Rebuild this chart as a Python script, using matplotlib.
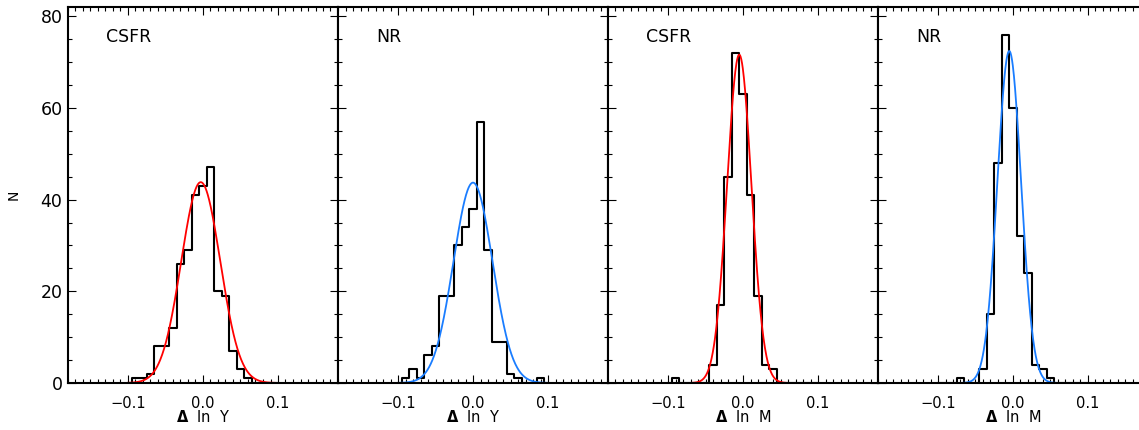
import numpy as np
import matplotlib
matplotlib.use("Agg")
import matplotlib.pyplot as plt
from matplotlib.ticker import MultipleLocator

# bin centres (IDL psym=10 style histogram)
bins = [-0.10, -0.09, -0.08, -0.07, -0.06, -0.05, -0.04, -0.03, -0.02, -0.01,
        0.00, 0.01, 0.02, 0.03, 0.04, 0.05, 0.06, 0.07, 0.08, 0.09, 0.10]

csfr_lny = [0, 1, 1, 2, 8, 8, 12, 26, 29, 41, 43, 47, 20, 19, 7, 3, 1, 0, 0, 0, 0]
nr_lny = [0, 1, 3, 1, 6, 8, 19, 19, 30, 34, 38, 57, 29, 9, 9, 2, 1, 0, 0, 1, 0]
csfr_lnm = [0, 1, 0, 0, 0, 0, 4, 17, 45, 72, 63, 41, 19, 4, 3, 0, 0, 0, 0, 0, 0]
nr_lnm = [0, 0, 0, 1, 0, 0, 3, 15, 48, 76, 60, 32, 24, 4, 3, 1, 0, 0, 0, 0, 0]

# gaussian fits: amplitude, mean, sigma
fit_csfr_lny = [43.8, -0.003, 0.026]
fit_nr_lny = [43.7, 0.000, 0.026]
fit_csfr_lnm = [71.6, -0.005, 0.0162]
fit_nr_lnm = [72.4, -0.005, 0.0158]

labels = ["CSFR", "NR", "CSFR", "NR"]
xlabels = [r"$\mathbf{\Delta}$  ln  Y", r"$\mathbf{\Delta}$  ln  Y",
           r"$\mathbf{\Delta}$  ln  M", r"$\mathbf{\Delta}$  ln  M"]

hists = [csfr_lny, nr_lny, csfr_lnm, nr_lnm]
fits = [fit_csfr_lny, fit_nr_lny, fit_csfr_lnm, fit_nr_lnm]
colors = ["#ff0000", "#1a7dff", "#ff0000", "#1a7dff"]

plt.rcParams["font.family"] = ["DejaVu Sans"]
plt.rcParams["mathtext.fontset"] = "dejavusans"

fig = plt.figure(figsize=(11.39, 4.30), dpi=100)

W, H = 1139.0, 430.0
lefts = [68, 338, 608, 878]

for i in range(4):
    ax = fig.add_axes([lefts[i] / W, 47 / H, 270 / W, 376 / H])

    ax.step(bins, hists[i], where="mid", color="black", lw=1.5)

    a, mu, sig = fits[i]
    xx = np.linspace(bins[0], bins[-1], 400)
    ax.plot(xx, a * np.exp(-0.5 * ((xx - mu) / sig) ** 2), color=colors[i], lw=1.3)

    ax.set_xlim(-0.18, 0.18)
    ax.set_ylim(0, 82)

    ax.xaxis.set_major_locator(MultipleLocator(0.1))
    ax.xaxis.set_minor_locator(MultipleLocator(0.01))
    ax.yaxis.set_major_locator(MultipleLocator(20))
    ax.yaxis.set_minor_locator(MultipleLocator(5))
    ax.xaxis.set_major_formatter(plt.FuncFormatter(lambda v, p: f"{v:.1f}".replace("-", "\u2212")))

    ax.tick_params(which="both", direction="in", top=True, right=True, width=0.8)
    ax.tick_params(which="major", length=6, labelsize=10.5, pad=9)
    ax.tick_params(which="minor", length=3)
    ax.tick_params(axis="y", labelsize=12.5, pad=4)

    if i > 0:
        ax.set_yticklabels([])
    else:
        ax.set_ylabel("N", fontsize=10, labelpad=14)

    for s in ax.spines.values():
        s.set_linewidth(1.5)

    ax.set_xlabel(xlabels[i], fontsize=10.5, va="baseline")
    ax.xaxis.set_label_coords(0.5, -0.104)
    ax.text(0.14, 0.92, labels[i], transform=ax.transAxes, fontsize=12.5,
            va="center", ha="left")

fig.savefig("out.png", dpi=100)
